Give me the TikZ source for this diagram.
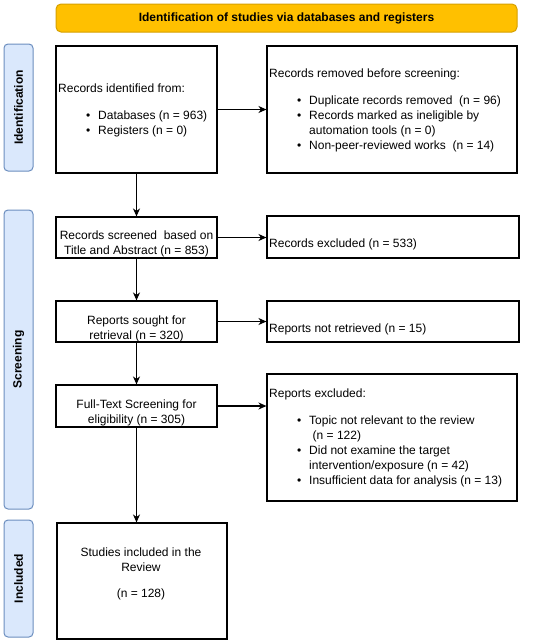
\documentclass[tikz,border=0pt]{standalone}
\usepackage{fontspec}
\setmainfont{Liberation Sans}
\usetikzlibrary{arrows.meta,positioning,calc}
\definecolor{bannerfill}{HTML}{FFC000}
\definecolor{bannerdraw}{HTML}{D6A000}
\definecolor{barfill}{HTML}{DAE8FC}
\definecolor{bardraw}{HTML}{6C8EBF}
\newcommand{\bitem}[1]{\hspace*{28pt}\makebox[12pt][l]{\textbullet}#1}
\newcommand{\bcont}[1]{\hspace*{40pt}#1}
\newcommand{\twelve}{\fontsize{12pt}{15pt}\selectfont}
\begin{document}
\begin{tikzpicture}[x=1pt,y=-1pt,
  box/.style={draw=black,line width=1.1pt,fill=white,inner sep=0pt},
  bar/.style={draw=bardraw,line width=1pt,fill=barfill,rounded corners=4pt,inner sep=0pt},
  txt/.style={inner sep=0pt,font=\twelve},
  sidelbl/.style={inner sep=0pt,rotate=90,font=\twelve\bfseries},
  arr/.style={line width=1.2pt,-{Stealth[length=8pt,width=7pt,inset=2.5pt]}}]
\useasboundingbox (0,0) rectangle (550,643);
\fill[white] (0,0) rectangle (550,643);
% banner
\draw[draw=bannerdraw,fill=bannerfill,line width=1pt,rounded corners=5pt] (56,4) rectangle (517,32);
\node[txt,font=\twelve\bfseries] (banner) at (286.5,18.5) {Identification of studies via databases and registers};
% side bars
\draw[bar] (4,44) rectangle (33,171);
\node[sidelbl] (lid) at (18.5,107.5) {Identification};
\draw[bar] (4,210) rectangle (33,509);
\node[sidelbl] (lsc) at (18.5,359.5) {Screening};
\draw[bar] (4,520) rectangle (33,637);
\node[sidelbl] (lin) at (18.5,578.5) {Included};
% boxes
\node[box,minimum width=161pt,minimum height=127pt] (b1) at (136.5,109.5) {};
\node[box,minimum width=250pt,minimum height=127pt] (b2) at (392,109.5) {};
\node[box,minimum width=161pt,minimum height=41pt] (b3) at (136.5,237.5) {};
\node[box,minimum width=252pt,minimum height=42pt] (b4) at (393,237) {};
\node[box,minimum width=161pt,minimum height=41pt] (b5) at (136.5,321.5) {};
\node[box,minimum width=252pt,minimum height=41pt] (b6) at (393,321.5) {};
\node[box,minimum width=161pt,minimum height=42pt] (b7) at (136.5,406) {};
\node[box,minimum width=250pt,minimum height=127pt] (b8) at (392,437.5) {};
\node[box,minimum width=170pt,minimum height=116pt] (b9) at (142,581) {};
% texts
\node[txt,anchor=west,align=left] (t1) at (58,110.5) {Records identified from:\\[12pt]
\bitem{Databases (n = 963)}\\
\bitem{Registers (n = 0)}};
\node[txt,anchor=west,align=left] (t2) at (269,110) {Records removed before screening:\\[12pt]
\bitem{Duplicate records removed\ \ (n = 96)}\\
\bitem{Records marked as ineligible by}\\
\bcont{automation tools (n = 0)}\\
\bitem{Non-peer-reviewed works\ \ (n = 14)}};
\node[txt,align=center] (t3) at (136.5,243.5) {Records screened\ \ based on\\Title and Abstract (n = 853)};
\node[txt,anchor=west] (t4) at (269,244) {Records excluded (n = 533)};
\node[txt,align=center] (t5) at (136.5,328.5) {Reports sought for\\retrieval (n = 320)};
\node[txt,anchor=west] (t6) at (269,329) {Reports not retrieved (n = 15)};
\node[txt,align=center] (t7) at (136.5,413) {Full-Text Screening for\\eligibility (n = 305)};
\node[txt,anchor=west,align=left] (t8) at (269,437.5) {Reports excluded:\\[12pt]
\bitem{Topic not relevant to the review}\\
\hspace*{43.5pt}(n = 122)\\
\bitem{Did not examine the target}\\
\bcont{intervention/exposure (n = 42)}\\
\bitem{Insufficient data for analysis (n = 13)}};
\node[txt,align=center] (t9) at (141,574.25) {Studies included in the\\Review\\[11pt](n = 128)};
% connectors
\draw[arr] (b1.east) -- (b2.west);
\draw[arr] (b3.east) -- (b3.east -| b4.west);
\draw[arr] (b5.east) -- (b5.east -| b6.west);
\draw[arr] (b7.east) -- (b7.east -| b8.west);
\draw[arr] (b1.south) -- (b3.north);
\draw[arr] (b3.south) -- (b5.north);
\draw[arr] (b5.south) -- (b7.north);
\draw[arr] (b7.south) -- (b7.south |- b9.north);
\end{tikzpicture}
\end{document}
